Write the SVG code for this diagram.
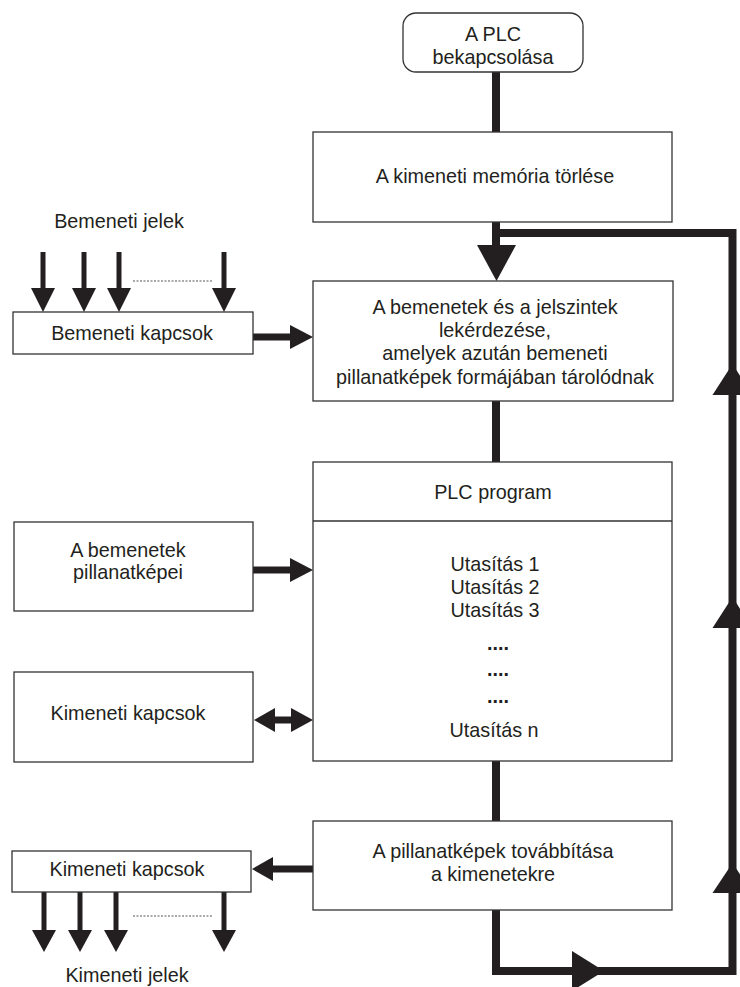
<svg xmlns="http://www.w3.org/2000/svg" width="740" height="987" viewBox="0 0 740 987">
<style>
.box{fill:#fff;stroke:#333;stroke-width:1.3}
.t{font-family:"Liberation Sans",Arial,sans-serif;font-size:19.8px;fill:#231f20;text-anchor:middle}
.b{font-weight:bold}
.ln{stroke:#231f20;fill:none;stroke-width:8}
.sm{stroke:#231f20;fill:none;stroke-width:5}
.md{stroke:#231f20;fill:none;stroke-width:7}
.head{fill:#231f20}
.dot{stroke:#555;stroke-width:1;stroke-dasharray:2 1.5;fill:none}
</style>
<g id="connectors">
<line class="ln" x1="496" y1="72" x2="496" y2="132"/>
<line class="ln" x1="496" y1="222" x2="496" y2="247"/>
<polygon class="head" points="477,245 516,245 496.5,281"/>
<path class="ln" d="M496,910 V971 H732.5 V233 H496"/>
<polygon class="head" points="712.5,395 752.5,395 732.5,364"/>
<polygon class="head" points="712.5,628 752.5,628 732.5,597"/>
<polygon class="head" points="712.5,893 752.5,893 732.5,863"/>
<polygon class="head" points="572,951 572,991 604,971"/>
<line class="ln" x1="496" y1="401" x2="496" y2="462"/>
<line class="ln" x1="496" y1="761" x2="496" y2="821"/>
<line class="sm" x1="43" y1="252" x2="43" y2="290"/>
<line class="sm" x1="84" y1="252" x2="84" y2="290"/>
<line class="sm" x1="119" y1="252" x2="119" y2="290"/>
<line class="sm" x1="224" y1="252" x2="224" y2="290"/>
<polygon class="head" points="31,288 55,288 43,312"/>
<polygon class="head" points="72,288 96,288 84,312"/>
<polygon class="head" points="107,288 131,288 119,312"/>
<polygon class="head" points="212,288 236,288 224,312"/>
<line class="dot" x1="133" y1="281" x2="212" y2="281"/>
<line class="md" x1="253" y1="337" x2="292" y2="337"/>
<polygon class="head" points="290,325 290,349 313,337"/>
<line class="md" x1="253" y1="570" x2="292" y2="570"/>
<polygon class="head" points="290,558 290,582 313,570"/>
<line class="md" x1="273" y1="720" x2="293" y2="720"/>
<polygon class="head" points="275,708 275,732 254,720"/>
<polygon class="head" points="291,708 291,732 313,720"/>
<line class="md" x1="271" y1="869" x2="313" y2="869"/>
<polygon class="head" points="273,857 273,881 252,869"/>
<line class="sm" x1="44" y1="892" x2="44" y2="932"/>
<line class="sm" x1="80" y1="892" x2="80" y2="932"/>
<line class="sm" x1="116" y1="892" x2="116" y2="932"/>
<line class="sm" x1="224" y1="892" x2="224" y2="932"/>
<polygon class="head" points="32,930 56,930 44,952"/>
<polygon class="head" points="68,930 92,930 80,952"/>
<polygon class="head" points="104,930 128,930 116,952"/>
<polygon class="head" points="212,930 236,930 224,952"/>
<line class="dot" x1="133" y1="916" x2="212" y2="916"/>
</g>
<g id="start">
<rect class="box" x="403" y="13" width="180" height="59" rx="13"/>
<text class="t" x="493" y="41">A PLC</text>
<text class="t" x="493" y="64">bekapcsolása</text>
</g>
<g id="clear">
<rect class="box" x="313" y="132" width="359" height="90"/>
<text class="t" x="495" y="183">A kimeneti memória törlése</text>
</g>
<g id="read">
<rect class="box" x="313" y="281" width="360" height="120"/>
<text class="t" x="495" y="314">A bemenetek és a jelszintek</text>
<text class="t" x="495" y="337">lekérdezése,</text>
<text class="t" x="495" y="360">amelyek azután bemeneti</text>
<text class="t" x="495" y="384">pillanatképek formájában tárolódnak</text>
</g>
<g id="program">
<rect class="box" x="313" y="462" width="359" height="299"/>
<line class="box" x1="313" y1="521" x2="672" y2="521"/>
<text class="t" x="493" y="499">PLC program</text>
<text class="t" x="495" y="571">Utasítás 1</text>
<text class="t" x="495" y="594">Utasítás 2</text>
<text class="t" x="495" y="617">Utasítás 3</text>
<text class="t b" x="498" y="650">....</text>
<text class="t b" x="498" y="676">....</text>
<text class="t b" x="498" y="703">....</text>
<text class="t" x="494" y="737">Utasítás n</text>
</g>
<g id="output">
<rect class="box" x="313" y="821" width="359" height="89"/>
<text class="t" x="493" y="858">A pillanatképek továbbítása</text>
<text class="t" x="493" y="881">a kimenetekre</text>
</g>
<g id="inputs-label">
<text class="t" x="119" y="228">Bemeneti jelek</text>
</g>
<g id="input-terminals">
<rect class="box" x="13" y="312" width="240" height="42"/>
<text class="t" x="132" y="340">Bemeneti kapcsok</text>
</g>
<g id="input-snapshots">
<rect class="box" x="14" y="522" width="239" height="89"/>
<text class="t" x="128" y="557">A bemenetek</text>
<text class="t" x="128" y="579">pillanatképei</text>
</g>
<g id="output-terminals-mid">
<rect class="box" x="14" y="672" width="239" height="90"/>
<text class="t" x="128" y="720">Kimeneti kapcsok</text>
</g>
<g id="output-terminals">
<rect class="box" x="12" y="851" width="239" height="41"/>
<text class="t" x="127" y="876">Kimeneti kapcsok</text>
</g>
<g id="outputs-label">
<text class="t" x="127" y="982">Kimeneti jelek</text>
</g>
</svg>
